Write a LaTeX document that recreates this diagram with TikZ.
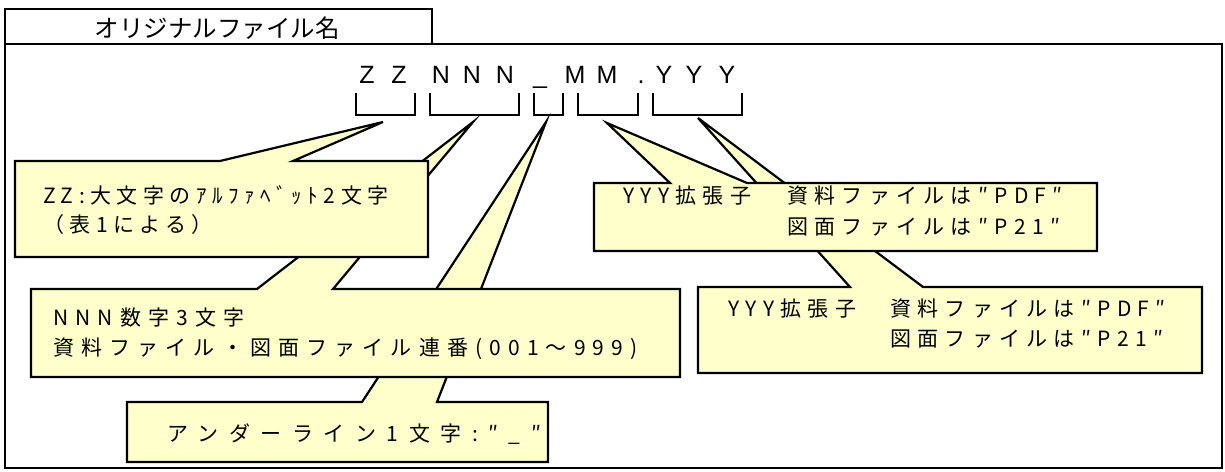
\documentclass[tikz,border=0pt]{standalone}
\usepackage{fontspec}
\newfontfamily\jp{Noto Sans CJK JP}
\newfontfamily\jpz[LetterSpace=26]{Noto Sans CJK JP}
\newfontfamily\jpn[LetterSpace=34]{Noto Sans CJK JP}
\newfontfamily\jpu[LetterSpace=50]{Noto Sans CJK JP}
\newfontfamily\jpy[LetterSpace=30]{Noto Sans CJK JP}
\newfontfamily\codefont{Liberation Sans}
\definecolor{cy}{HTML}{FFFFCC}
\begin{document}
\begin{tikzpicture}[x=1pt,y=-1pt,
  frame/.style={draw=black,line width=2.2pt},
  callout/.style={draw=black,fill=cy,line width=2.2pt,line join=miter},
  ctext/.style={anchor=west,inner sep=0pt},
  fz/.style={font=\jpz\fontsize{21}{24}\selectfont},
  fn/.style={font=\jpn\fontsize{21}{24}\selectfont},
  fu/.style={font=\jpu\fontsize{21}{24}\selectfont},
  fy/.style={font=\jpy\fontsize{21}{24}\selectfont},
  titletext/.style={inner sep=0pt,font=\jp\fontsize{24.5}{28}\selectfont},
  code/.style={anchor=base,inner sep=0pt,font=\codefont\fontsize{25}{30}\selectfont},
  brk/.style={draw=black,line width=2pt}]
\useasboundingbox (0,0) rectangle (1225,471);
% frames
\draw[frame] (5,44) rectangle (1222,468);
\draw[frame] (5,44) -- (5,9) -- (432,9) -- (432,44);
\node[titletext] (title) at (217,28) {オリジナルファイル名};
% code letters
\foreach \c/\x/\n in {Z/367/z1,Z/399/z2,N/441/n1,N/472/n2,N/505/n3,\_/540/us,M/575/m1,M/607/m2,./641/dot,Y/664/y1,Y/694/y2,Y/727/y3}
  \node[code] (\n) at (\x,83) {\c};
% brackets
\foreach \a/\b in {356/415,430/519,534/563,578/638,653/742}
  \draw[brk] (\a,93) -- (\a,115) -- (\b,115) -- (\b,93);
% tips
\coordinate (tipZ) at (383,122);
\coordinate (tipN) at (473,122);
\coordinate (tipU) at (546,122);
\coordinate (tipM) at (607,123);
\coordinate (tipY) at (698,118);
% callout 3 (underscore)
\draw[callout] (127,402) -- (362,402) -- (tipU) -- (437,402) -- (548,402) -- (548,462) -- (127,462) -- cycle;
\node[ctext,fu] (u1) at (167,434) {アンダーライン1文字:″\_″};
% callout 2 (NNN)
\draw[callout] (31,289) -- (257,289) -- (tipN) -- (333,289) -- (680,289) -- (680,377) -- (31,377) -- cycle;
\node[ctext,fn] (n1t) at (53,318) {NNN数字3文字};
\node[ctext,fn] (n2t) at (53,349) {資料ファイル・図面ファイル連番(001～999)};
% callout 1 (ZZ)
\draw[callout] (15,161) -- (220,161) -- (tipZ) -- (293,161) -- (428,161) -- (428,257) -- (15,257) -- cycle;
\node[ctext,fz] (z1t) at (43,195) {ZZ:大文字のｱﾙﾌｧﾍﾞｯﾄ2文字};
\node[ctext,fz] (z2t) at (43,225) {（表1による）};
% callout 5 (YYY lower)
\draw[callout] (698,287) -- (850,287) -- (tipY) -- (923,287) -- (1202,287) -- (1202,373) -- (698,373) -- cycle;
\node[ctext,fy] (y5a) at (728,309) {YYY拡張子};
\node[ctext,fy] (y5b) at (890,309) {資料ファイルは″PDF″};
\node[ctext,fy] (y5c) at (890,339) {図面ファイルは″P21″};
% callout 4 (YYY upper)
\draw[callout] (594,183) -- (670,183) -- (tipM) -- (747,183) -- (1097,183) -- (1097,251) -- (594,251) -- cycle;
\node[ctext,fy] (y4a) at (623,196) {YYY拡張子};
\node[ctext,fy] (y4b) at (787,196) {資料ファイルは″PDF″};
\node[ctext,fy] (y4c) at (787,227) {図面ファイルは″P21″};
\end{tikzpicture}
\end{document}
